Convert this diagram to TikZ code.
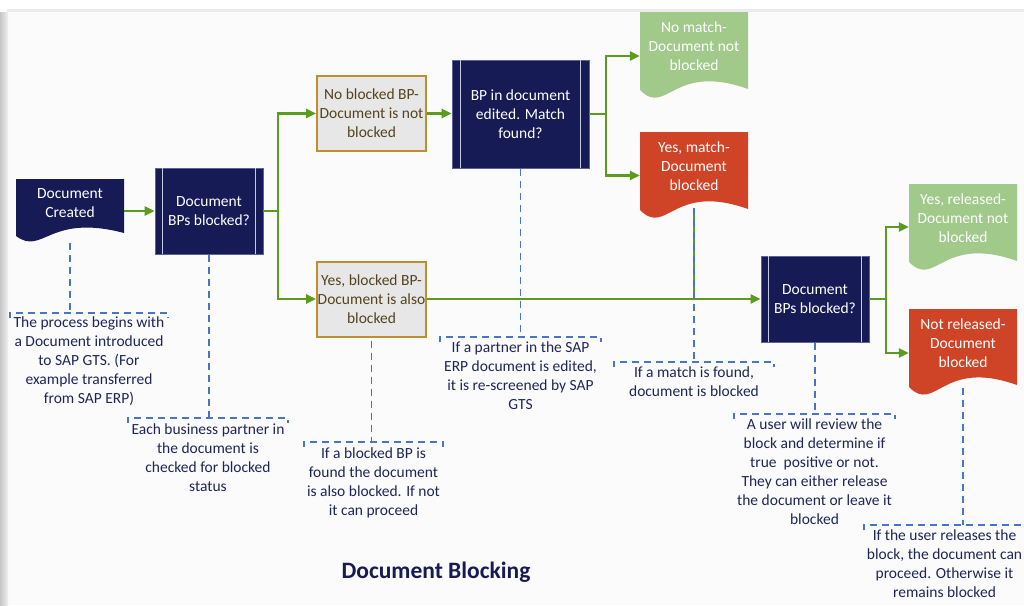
\documentclass[tikz,border=0pt]{standalone}
\usepackage{fontspec}
\setmainfont{Carlito}
\usetikzlibrary{arrows.meta}
\definecolor{navy}{HTML}{171B55}
\definecolor{navyline}{HTML}{5C6196}
\definecolor{procline}{HTML}{C5C9E0}
\definecolor{flowgreen}{HTML}{5B9C1F}
\definecolor{docgreen}{HTML}{A1C98A}
\definecolor{docred}{HTML}{CF4427}
\definecolor{goldline}{HTML}{BE8F2E}
\definecolor{boxgray}{HTML}{E7E7E7}
\definecolor{browntext}{HTML}{54431C}
\definecolor{noteblue}{HTML}{4A75C4}
\definecolor{notetext}{HTML}{1E2658}
\definecolor{panel}{HTML}{FBFBFC}
\definecolor{topline}{HTML}{EBEBEB}
\tikzset{
  every node/.style={font=\fontsize{15.5}{19}\selectfont},
  proc/.style={fill=navy, draw=navyline, line width=0.9pt, text=white, align=center,
    minimum width=108pt, minimum height=86pt, inner sep=0pt},
  goldbox/.style={fill=boxgray, draw=goldline, line width=2pt, text=browntext, align=center,
    minimum width=109pt, minimum height=75pt, inner sep=0pt},
  doctext/.style={text=white, align=center, minimum width=108pt, inner sep=0pt},
  flow/.style={draw=flowgreen, line width=2.4pt, -{Triangle[length=10pt,width=9pt]}},
  callout/.style={draw=noteblue, line width=1.5pt, dash pattern=on 7pt off 5pt},
  bracket/.style={minimum height=5pt, inner sep=0pt, anchor=north},
  note/.style={text=notetext, align=center, inner sep=0pt, anchor=north},
  plin/.style={draw=procline, line width=1.1pt}
}
\begin{document}
\begin{tikzpicture}[x=1pt,y=-1pt]
\useasboundingbox (0,0) rectangle (1024,605);
% background
\fill[panel] (0,0) rectangle (1024,605);
\fill[white] (0,0) rectangle (1024,9);
\fill[topline] (7,9) rectangle (1024,12);
\shade[left color=black!22, right color=black!6] (0,12) rectangle (8,605);

% document-shaped fills
\fill[navy] (16,179) -- (124,179) -- (124,233) .. controls (48.4,213) and (43,256) .. (16,236) -- cycle;
\fill[docgreen] (640,12) -- (748,12) -- (748,89) .. controls (672.4,62) and (667,117) .. (640,90) -- cycle;
\fill[docred] (640,132) -- (748,132) -- (748,209) .. controls (672.4,182) and (667,237) .. (640,210) -- cycle;
\fill[docgreen] (909,184) -- (1017,184) -- (1017,261) .. controls (941.4,234) and (936,289) .. (909,262) -- cycle;
\fill[docred] (909,309) -- (1017,309) -- (1017,385) .. controls (941.4,358) and (936,414) .. (909,387) -- cycle;

% document texts
\node[doctext] (dc) at (70,203.5) {Document\\Created};
\node[doctext] (nm) at (694,46) {No match-\\Document not\\blocked};
\node[doctext] (ym) at (694,166) {Yes, match-\\Document\\blocked};
\node[doctext] (yr) at (963,218) {Yes, released-\\Document not\\blocked};
\node[doctext] (nr) at (963,343) {Not released-\\Document\\blocked};

% process boxes
\node[proc] (b1) at (209,211) {Document\\BPs blocked?};
\node[proc, minimum width=137pt, minimum height=108pt] (b2) at (520.5,114) {BP in document\\edited. Match\\found?};
\node[proc] (b3) at (815,299) {Document\\BPs blocked?};
\foreach \b/\s in {b1/8pt,b2/9pt,b3/8pt}{
  \draw[plin] ([xshift=\s,yshift=-0.6pt]\b.north west) -- ([xshift=\s,yshift=0.6pt]\b.south west);
  \draw[plin] ([xshift=-\s,yshift=-0.6pt]\b.north east) -- ([xshift=-\s,yshift=0.6pt]\b.south east);
}
\node[goldbox] (nb) at (371.5,113.5) {No blocked BP-\\Document is not\\blocked};
\node[goldbox] (yb) at (371.5,299) {Yes, blocked BP-\\Document is also\\blocked};

% flow connectors
\coordinate (j1) at (278,211);
\coordinate (j2) at (606,114);
\coordinate (j3) at (886,299);
\coordinate (ymb) at (694,208);
\draw[flowgreen, line width=1.3pt] (ymb) -- (ymb |- yb.east);
\draw[flow] (dc.east |- b1.west) -- (b1.west);
\draw[flow] (b1.east) -- (j1) |- (nb.west);
\draw[flow] (j1) |- (yb.west);
\draw[flow] (nb.east) -- (nb.east -| b2.west);
\draw[flow] (b2.east) -- (j2) |- ([yshift=-10pt]nm.west);
\draw[flow] (j2) |- ([yshift=-9.5pt]ym.west);
\draw[flow] (yb.east) -- (b3.west);
\draw[flow] (b3.east) -- (j3) |- ([yshift=-9pt]yr.west);
\draw[flow] (j3) |- ([yshift=-10pt]nr.west);

% callout brackets
\node[bracket, minimum width=158pt] (k1) at (89,313) {};
\node[bracket, minimum width=160pt] (k2) at (208,418) {};
\node[bracket, minimum width=139pt] (k3) at (373.5,442) {};
\node[bracket, minimum width=161pt] (k4) at (520.5,337) {};
\node[bracket, minimum width=160pt] (k5) at (694,362) {};
\node[bracket, minimum width=161pt] (k6) at (814.5,414) {};
\node[bracket, minimum width=161pt] (k7) at (944.5,525) {};
\foreach \k in {k1,k2,k3,k4,k5,k6,k7}{
  \draw[callout] (\k.south west) -- (\k.north west) -- (\k.north east) -- (\k.south east);
}
\coordinate (dcb) at (70,243);
\coordinate (nrb) at (963,388);
\draw[callout] (dcb) -- (dcb |- k1.north);
\draw[callout] ([yshift=-1pt]b1.south) -- (b1.south |- k2.north);
\draw[callout] ([yshift=-3pt]yb.south) -- (yb.south |- k3.north);
\draw[callout] ([yshift=-1pt]b2.south) -- (b2.south |- k4.north);
\draw[callout] (ymb) -- (ymb |- k5.north);
\draw[callout] ([yshift=-1pt]b3.south) -- (b3.south |- k6.north);
\draw[callout] (nrb) -- (nrb |- k7.north);

% notes
\node[note] (t1) at ([yshift=-3.5pt]k1.north) {The process begins with\\a Document introduced\\to SAP GTS. (For\\example transferred\\from SAP ERP)};
\node[note] (t2) at ([yshift=-5.5pt]k2.north) {Each business partner in\\the document is\\checked for blocked\\status};
\node[note] (t3) at ([yshift=-6pt]k3.north) {If a blocked BP is\\found the document\\is also blocked. If not\\it can proceed};
\node[note] (t4) at ([yshift=-5pt]k4.north) {If a partner in the SAP\\ERP document is edited,\\it is re-screened by SAP\\GTS};
\node[note] (t5) at ([yshift=-5pt]k5.north) {If a match is found,\\document is blocked};
\node[note] (t6) at ([yshift=-4.5pt]k6.north) {A user will review the\\block and determine if\\true\ \ positive or not.\\They can either release\\the document or leave it\\blocked};
\node[note] (t7) at ([yshift=-5pt]k7.north) {If the user releases the\\block, the document can\\proceed. Otherwise it\\remains blocked};

% title
\node[font=\fontsize{23.5}{28}\selectfont\bfseries, text=navy] (title) at (436,572) {Document Blocking};
\end{tikzpicture}
\end{document}
